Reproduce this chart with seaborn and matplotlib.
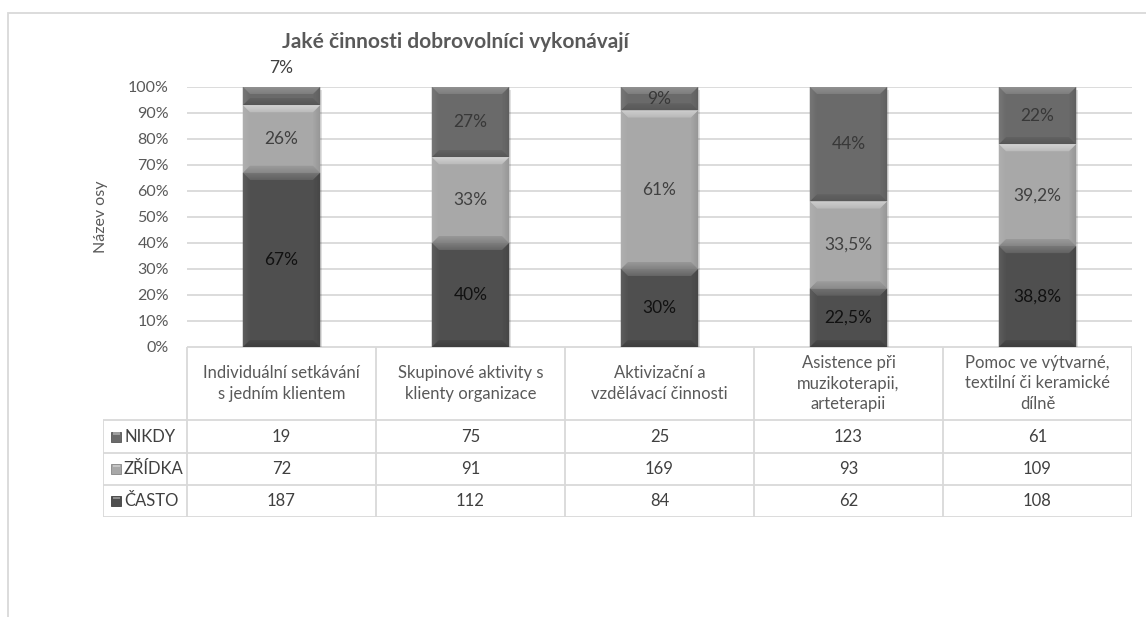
import numpy as np
import pandas as pd
import matplotlib
matplotlib.use("Agg")
import matplotlib.pyplot as plt
import seaborn as sns
from matplotlib.patches import Polygon, Rectangle
from matplotlib.colors import to_rgb

# ---- data -------------------------------------------------------------
categories = [
    "Individuální setkávání\ns jedním klientem",
    "Skupinové aktivity s\nklienty organizace",
    "Aktivizační a\nvzdělávací činnosti",
    "Asistence při\nmuzikoterapii,\narteterapii",
    "Pomoc ve výtvarné,\ntextilní či keramické\ndílně",
]
series = ["NIKDY", "ZŘÍDKA", "ČASTO"]

# answer counts shown in the data table
counts_nikdy = [19, 75, 25, 123, 61]
counts_zridka = [72, 91, 169, 93, 109]
counts_casto = [187, 112, 84, 62, 108]

# shares (in %) drawn as the stacked segments
pct_casto = [67, 40, 30, 22.5, 38.8]
pct_zridka = [26, 33, 61, 33.5, 39.2]
pct_nikdy = [7, 27, 9, 44, 22]

title = "Jaké činnosti dobrovolníci vykonávají"
y_title = "Název osy"

# ---- style --------------------------------------------------------------
sns.set_theme(style="white")
plt.rcParams["font.family"] = ["Lato", "DejaVu Sans"]

colors = {"NIKDY": "#6a6a6a", "ZŘÍDKA": "#a8a8a8", "ČASTO": "#4f4f4f"}
label_colors = {"NIKDY": "#383838", "ZŘÍDKA": "#404040", "ČASTO": "#111111"}
grid_c = "#d9d9d9"
text_c = "#595959"
fs = 12

W, H = 1146, 617
fig = plt.figure(figsize=(W / 100, H / 100), dpi=100)
fig.patch.set_facecolor("white")

# outer chart frame
fig.add_artist(Rectangle((8 / W, -0.05), 1.2, (1 - 13 / H) + 0.05,
                         transform=fig.transFigure, fill=False,
                         ec=grid_c, lw=1.3))

ax = fig.add_axes([187 / W, 1 - 347 / H, (1132 - 187) / W, (347 - 87) / H])

df = pd.DataFrame({
    "kategorie": categories,
    "ČASTO": pct_casto,
    "ZŘÍDKA": pct_zridka,
    "NIKDY": pct_nikdy,
})
df["cum_casto"] = df["ČASTO"]
df["cum_zridka"] = df["cum_casto"] + df["ZŘÍDKA"]
df["cum_nikdy"] = df["cum_zridka"] + df["NIKDY"]

layers = [("NIKDY", "cum_nikdy"), ("ZŘÍDKA", "cum_zridka"), ("ČASTO", "cum_casto")]
for name, col in layers:
    sns.barplot(data=df, x="kategorie", y=col, order=categories,
                color=colors[name], saturation=1, width=0.41,
                edgecolor="none", linewidth=0, ax=ax, zorder=3)

ax.set_xlim(-0.5, 4.5)
ax.set_ylim(0, 100)

# turn the overlapping cumulative bars into separate stacked segments
segments = []
for k, (name, col) in enumerate(layers):
    cont = ax.containers[k]
    below = ax.containers[k + 1] if k + 1 < len(layers) else None
    vals = df[name].tolist()
    for j, bar in enumerate(cont.patches):
        top = bar.get_height()
        bottom = below.patches[j].get_height() if below is not None else 0.0
        bar.set_y(bottom)
        bar.set_height(top - bottom)
        segments.append((name, bar, vals[j]))


def mix(c, other, t):
    c = np.array(to_rgb(c))
    o = np.array(to_rgb(other))
    return tuple(c * (1 - t) + o * t)


# bevel edges on each segment, built up from thin bands for a soft gradient
to_px = ax.transData
to_data = ax.transData.inverted()
b = 7.0
steps = 7
for name, bar, val in segments:
    x0, y0 = bar.get_x(), bar.get_y()
    x1, y1 = x0 + bar.get_width(), y0 + bar.get_height()
    (px0, py0), (px1, py1) = to_px.transform([(x0, y0), (x1, y1)])
    base = colors[name]
    hi = 0.55 if name == "ZŘÍDKA" else 0.25
    for s in range(steps):
        a0 = b * s / steps
        a1 = b * (s + 1) / steps
        f = 1 - s / steps
        faces = [
            ([(px0 + a0, py1 - a0), (px1 - a0, py1 - a0), (px1 - a1, py1 - a1), (px0 + a1, py1 - a1)],
             mix(base, "white", hi * (0.45 + 0.55 * f))),
            ([(px0 + a0, py0 + a0), (px1 - a0, py0 + a0), (px1 - a1, py0 + a1), (px0 + a1, py0 + a1)],
             mix(base, "black", 0.22 * (0.4 + 0.6 * f))),
            ([(px0 + a0, py0 + a0), (px0 + a0, py1 - a0), (px0 + a1, py1 - a1), (px0 + a1, py0 + a1)],
             mix(base, "white", 0.10 * f)),
            ([(px1 - a0, py0 + a0), (px1 - a0, py1 - a0), (px1 - a1, py1 - a1), (px1 - a1, py0 + a1)],
             mix(base, "black", 0.12 * f)),
        ]
        for pts, fc in faces:
            ax.add_patch(Polygon(to_data.transform(pts), closed=True, fc=fc,
                                 ec="none", zorder=4))
    # soft drop shadow
    shadow = to_data.transform([(px0 + 2, py0 - 3), (px1 + 2, py1 - 3)])
    ax.add_patch(Rectangle(shadow[0], shadow[1][0] - shadow[0][0],
                           shadow[1][1] - shadow[0][1], fc="#000000",
                           alpha=0.12, ec="none", zorder=2.5))

# value labels
for name, bar, val in segments:
    xc = bar.get_x() + bar.get_width() / 2
    txt = f"{val:g}".replace(".", ",") + "%"
    if val < 8:
        ax.annotate(txt, (xc, bar.get_y() + bar.get_height()),
                    xytext=(0, 14), textcoords="offset points",
                    ha="center", va="center", fontsize=12.5,
                    color="#404040", zorder=6)
    else:
        ax.text(xc, bar.get_y() + bar.get_height() / 2, txt,
                ha="center", va="center", fontsize=12.5,
                color=label_colors[name], zorder=6)

# axes styling
ax.set_yticks(np.arange(0, 101, 10))
ax.set_yticklabels([f"{v}%" for v in range(0, 101, 10)])
ax.yaxis.grid(True, color=grid_c, lw=1.3)
ax.set_axisbelow(True)
ax.tick_params(axis="y", length=0, pad=13, labelsize=11.5, labelcolor=text_c)
ax.tick_params(axis="x", length=0, labelbottom=False)
ax.set_xlabel("")
ax.set_ylabel(y_title, fontsize=11.5, color=text_c)
ax.yaxis.set_label_coords((108 - 187) / (1132 - 187), 0.5)
for s in ax.spines.values():
    s.set_visible(False)

fig.text(455 / W, 1 - 42 / H, title, ha="center", va="center",
         fontsize=15, fontweight="bold", color=text_c)

# ---- data table under the chart ----------------------------------------
col_w = (1132 - 187) / 5
left_ext = (187 - 103) / col_w
tax = fig.add_axes([103 / W, 1 - 517 / H, (1132 - 103) / W, (517 - 347) / H])
tax.set_xlim(-0.5 - left_ext, 4.5)
tax.set_ylim(0, 170)
tax.axis("off")

row_edges = [97, 64, 32, 0]
lk = dict(color=grid_c, lw=1.3, solid_capstyle="butt")
tax.plot([-0.5, 4.5], [170, 170], **lk)
for y in row_edges:
    tax.plot([-0.5 - left_ext, 4.5], [y, y], **lk)
tax.plot([-0.5 - left_ext] * 2, [0, 97], **lk)
for xv in np.arange(-0.5, 4.6, 1.0):
    tax.plot([xv, xv], [0, 170], **lk)
tax.plot([-0.5 - left_ext, 4.5], [-1.5, -1.5], color="#c8c8c8", lw=1.0)

for j, cat in enumerate(categories):
    tax.text(j, 133.5, cat, ha="center", va="center", fontsize=fs,
             color=text_c, linespacing=1.35)

table_rows = [("NIKDY", counts_nikdy), ("ZŘÍDKA", counts_zridka), ("ČASTO", counts_casto)]
row_centers = [80.5, 48, 16]
px_x = 1 / col_w
for (name, vals), yc in zip(table_rows, row_centers):
    sx = -0.5 - left_ext + 8 * px_x
    tax.add_patch(Rectangle((sx, yc - 5), 10 * px_x, 10, fc=colors[name],
                            ec=mix(colors[name], "black", 0.2), lw=0.6))
    tax.add_patch(Rectangle((sx + 1.5 * px_x, yc + 2), 7 * px_x, 2.5,
                            fc=mix(colors[name], "white", 0.35), ec="none"))
    tax.text(sx + 13 * px_x, yc, name, ha="left", va="center",
             fontsize=fs, color="#404040")
    for j, v in enumerate(vals):
        tax.text(j, yc, str(v), ha="center", va="center", fontsize=fs,
                 color="#404040")

fig.savefig("out.png", dpi=100, facecolor="white")
